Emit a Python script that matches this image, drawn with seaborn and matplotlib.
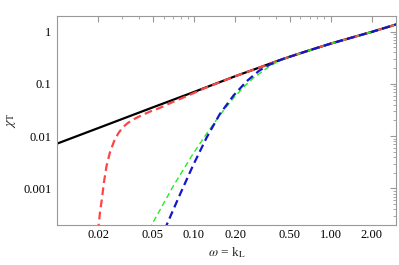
import seaborn as sns
import pandas as pd
import matplotlib.pyplot as plt
from matplotlib.ticker import FixedLocator, FixedFormatter, LogLocator, NullFormatter

sns.set_theme(style="white")
plt.rcParams['font.family'] = ['Liberation Serif', 'DejaVu Serif']
plt.rcParams['mathtext.fontset'] = 'stix'

# solid black curve
black_x = [0.01, 0.02, 0.05, 0.1, 0.2, 0.3, 0.4, 0.5, 0.7, 1.0, 1.5, 2.0, 3.0]
black_y = [0.0072, 0.0143, 0.0355, 0.070, 0.140, 0.205, 0.27, 0.33, 0.44, 0.59, 0.80, 0.99, 1.37]

# red dashed curve
red_x = [0.0199, 0.0206, 0.0213, 0.0220, 0.0230, 0.0243, 0.0260, 0.0280, 0.0302, 0.0330, 0.0365,
         0.041, 0.0474, 0.056, 0.07, 0.088, 0.1, 0.12, 0.2, 0.3, 0.4, 0.5, 0.7, 1.0, 1.5, 2.0, 3.0]
red_y = [1.5e-4, 3.5e-4, 6.5e-4, 1.3e-3, 2.7e-3, 4.8e-3, 7.8e-3, 0.0113, 0.0148, 0.0180, 0.0212,
         0.0247, 0.0293, 0.0345, 0.0450, 0.0580, 0.0670, 0.083, 0.140, 0.205, 0.27, 0.33, 0.44,
         0.59, 0.80, 0.99, 1.37]

# green dashed curve
green_x = [0.048, 0.0489, 0.0705, 0.0988, 0.124, 0.155, 0.195, 0.235, 0.273, 0.352, 0.40, 0.45,
           0.5, 0.7, 1.0, 1.5, 2.0, 3.0]
green_y = [1.6e-4, 1.96e-4, 1.1e-3, 4.64e-3, 0.0112, 0.0255, 0.0537, 0.0912, 0.1306, 0.212, 0.257,
           0.296, 0.329, 0.437, 0.587, 0.80, 0.99, 1.37]

# blue dashed curve
blue_x = [0.062, 0.063, 0.0789, 0.0988, 0.124, 0.155, 0.195, 0.244, 0.30, 0.343, 0.40, 0.45, 0.5,
          0.7, 1.0, 1.5, 2.0, 3.0]
blue_y = [1.6e-4, 1.96e-4, 7.55e-4, 2.79e-3, 9.44e-3, 0.0267, 0.0601, 0.1135, 0.179, 0.221, 0.268,
          0.302, 0.330, 0.44, 0.59, 0.80, 0.99, 1.37]

xticks = [0.02, 0.05, 0.1, 0.2, 0.5, 1.0, 2.0]
xlabels = ["0.02", "0.05", "0.10", "0.20", "0.50", "1.00", "2.00"]
yticks = [0.001, 0.01, 0.1, 1]
ylabels = ["0.001", "0.01", "0.1", "1"]

fig, ax = plt.subplots(figsize=(3.99, 2.65), dpi=100)
fig.subplots_adjust(left=0.143, right=0.9925, top=0.94, bottom=0.151)

sns.lineplot(x=black_x, y=black_y, color="black", linewidth=1.6, ax=ax)
sns.lineplot(x=red_x, y=red_y, color="#ff4444", linewidth=1.6, linestyle=(0, (3.5, 2)), ax=ax)
sns.lineplot(x=green_x, y=green_y, color="#22ee22", linewidth=1.0, linestyle=(0, (4, 2.5)), ax=ax)
sns.lineplot(x=blue_x, y=blue_y, color="#1515cc", linewidth=1.6, linestyle=(0, (3.5, 2)), ax=ax)

ax.set_xscale("log")
ax.set_yscale("log")
ax.set_xlim(0.01, 3.0)
ax.set_ylim(2e-4, 2.0)

ax.xaxis.set_major_locator(FixedLocator(xticks))
ax.xaxis.set_major_formatter(FixedFormatter(xlabels))
ax.yaxis.set_major_locator(FixedLocator(yticks))
ax.yaxis.set_major_formatter(FixedFormatter(ylabels))
ax.xaxis.set_minor_locator(LogLocator(base=10, subs=[1, 3, 4, 6, 7, 8, 9]))
ax.yaxis.set_minor_locator(LogLocator(base=10, subs=[2, 3, 4, 5, 6, 7, 8, 9]))
ax.xaxis.set_minor_formatter(NullFormatter())
ax.yaxis.set_minor_formatter(NullFormatter())

ax.tick_params(which="both", direction="in", top=True, right=True, color="#999999",
               labelsize=9, labelcolor="black")
ax.tick_params(axis="x", pad=3)
ax.tick_params(axis="y", pad=4)
ax.tick_params(which="major", length=4, width=0.8)
ax.tick_params(which="minor", length=2, width=0.6)
for s in ax.spines.values():
    s.set_color("#999999")
    s.set_linewidth(0.8)

ax.set_xlabel(r"$\omega$ = k$_\mathrm{L}$", fontsize=9.5, labelpad=3)
ax.set_ylabel(r"$\chi_\mathrm{T}$", fontsize=10, labelpad=4)

fig.savefig("out.png", dpi=100)
